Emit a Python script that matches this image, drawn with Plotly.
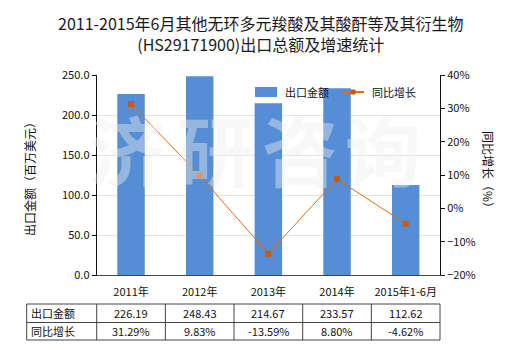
import plotly.graph_objects as go

categories = ["2011年", "2012年", "2013年", "2014年", "2015年1-6月"]
export_values = [226.19, 248.43, 214.67, 233.57, 112.62]
growth_values = [31.29, 9.83, -13.59, 8.80, -4.62]
export_labels = ["226.19", "248.43", "214.67", "233.57", "112.62"]
growth_labels = ["31.29%", "9.83%", "-13.59%", "8.80%", "-4.62%"]
row_names = ["出口金额", "同比增长"]
series_names = ["出口金额", "同比增长"]
watermark_chars = ["济", "研", "咨", "询"]

W, H = 520, 350
FONT = "Microsoft YaHei, Noto Sans CJK SC, sans-serif"
BAR_COLOR = "#558ED5"
LINE_COLOR = "#E46C0A"
MARK_COLOR = "#C55A11"
x0_px, x1_px = 96.7, 440.0
y_top_px, y_bot_px = 75.0, 275.0
dx0, dx1 = x0_px / W, x1_px / W
dy0, dy1 = 1 - y_bot_px / H, 1 - y_top_px / H


def px_x(p):
    return p / W


def px_y(p):
    return 1 - p / H


fig = go.Figure()
fig.add_trace(go.Bar(
    x=list(range(len(categories))), y=export_values, name=series_names[0],
    marker=dict(color=BAR_COLOR, line=dict(width=0)), width=0.4,
    yaxis="y", xaxis="x", showlegend=False))
fig.add_trace(go.Scatter(
    x=list(range(len(categories))), y=growth_values, name=series_names[1],
    mode="lines+markers", line=dict(color=LINE_COLOR, width=1),
    marker=dict(symbol="square", size=6, color=MARK_COLOR),
    yaxis="y2", xaxis="x", showlegend=False))

shapes = []
annotations = []

# watermark
wm_x = [127, 215, 300, 383]
for ch, xc in zip(watermark_chars, wm_x):
    annotations.append(dict(text="<b>" + ch + "</b>", x=px_x(xc), y=px_y(148), xref="paper", yref="paper",
                            xanchor="center", yanchor="middle", showarrow=False,
                            font=dict(size=76, color="rgba(238,238,238,0.42)", family=FONT)))

# title
annotations.append(dict(text="2011-2015年6月其他无环多元羧酸及其酸酐等及其衍生物<br>(HS29171900)出口总额及增速统计",
                        x=0.5, y=px_y(33), xref="paper", yref="paper", showarrow=False,
                        xanchor="center", yanchor="middle",
                        font=dict(size=16, color="#1a1a1a", family=FONT), align="center"))

# axis titles
annotations.append(dict(text="出口金额（百万美元）", x=px_x(29), y=px_y(176), xref="paper", yref="paper",
                        xanchor="center", yanchor="middle",
                        showarrow=False, textangle=-90, font=dict(size=12, color="#111", family=FONT)))
annotations.append(dict(text="同比增长（%）", x=px_x(489), y=px_y(172), xref="paper", yref="paper",
                        xanchor="center", yanchor="middle",
                        showarrow=False, textangle=90, font=dict(size=12, color="#111", family=FONT)))

# custom legend
shapes.append(dict(type="rect", xref="paper", yref="paper", x0=px_x(255), x1=px_x(277),
                   y0=px_y(97), y1=px_y(87), fillcolor=BAR_COLOR, line=dict(width=0)))
annotations.append(dict(text=series_names[0], x=px_x(283), y=px_y(92), xref="paper", yref="paper",
                        xanchor="left", yanchor="middle", showarrow=False,
                        font=dict(size=11, color="#111", family=FONT)))
shapes.append(dict(type="line", xref="paper", yref="paper", x0=px_x(342), x1=px_x(364),
                   y0=px_y(92), y1=px_y(92), line=dict(color=LINE_COLOR, width=2)))
shapes.append(dict(type="rect", xref="paper", yref="paper", x0=px_x(350.5), x1=px_x(355.5),
                   y0=px_y(94.5), y1=px_y(89.5), fillcolor=MARK_COLOR, line=dict(width=0)))
annotations.append(dict(text=series_names[1], x=px_x(370), y=px_y(92), xref="paper", yref="paper",
                        xanchor="left", yanchor="middle", showarrow=False,
                        font=dict(size=11, color="#111", family=FONT)))

# table
n = len(categories)
bounds = [dx0 + i * (dx1 - dx0) / n for i in range(n + 1)]
left = px_x(26.7)
row_lines = [px_y(304), px_y(322.5), px_y(340)]
line_style = dict(color="#444", width=1)
for yv in row_lines:
    shapes.append(dict(type="line", xref="paper", yref="paper", x0=left, x1=bounds[-1], y0=yv, y1=yv, line=line_style))
for xv in [left] + bounds:
    shapes.append(dict(type="line", xref="paper", yref="paper", x0=xv, x1=xv, y0=row_lines[0], y1=row_lines[2], line=line_style))
rows = [export_labels, growth_labels]
for r in range(2):
    yc = (row_lines[r] + row_lines[r + 1]) / 2
    annotations.append(dict(text=row_names[r], x=left + 2 / W, y=yc, xref="paper", yref="paper",
                            xanchor="left", yanchor="middle", showarrow=False,
                            font=dict(size=11, color="#111", family=FONT)))
    for i in range(n):
        annotations.append(dict(text=rows[r][i], x=(bounds[i] + bounds[i + 1]) / 2, y=yc, xref="paper", yref="paper",
                                xanchor="center", yanchor="middle", showarrow=False,
                                font=dict(size=11, color="#111", family=FONT)))

fig.update_layout(
    width=W, height=H, margin=dict(l=0, r=0, t=0, b=0, autoexpand=False),
    paper_bgcolor="white", plot_bgcolor="white",
    font=dict(family=FONT, size=11, color="#111"),
    showlegend=False,
    bargap=0.6,
    xaxis=dict(domain=[dx0, dx1], range=[-0.5, n - 0.5], tickmode="array",
               tickvals=list(range(n)), ticktext=categories, showgrid=False, automargin=False,
               showline=True, linecolor="#444", linewidth=1, ticks="", zeroline=False,
               tickfont=dict(size=11), ticklabelstandoff=7),
    yaxis=dict(domain=[dy0, dy1], range=[0, 250], dtick=50, tickformat=".1f", automargin=False,
               showgrid=True, gridcolor="#e3e3e3", gridwidth=1,
               showline=True, linecolor="#111", linewidth=1, ticks="outside", ticklen=4,
               tickcolor="#111", zeroline=False, tickfont=dict(size=11)),
    yaxis2=dict(domain=[dy0, dy1], range=[-20, 40], dtick=10, ticksuffix="%", overlaying="y",
                side="right", anchor="x", showgrid=False, showline=True, linecolor="#111", automargin=False,
                linewidth=1, ticks="outside", ticklen=4, tickcolor="#111", zeroline=False,
                tickfont=dict(size=11)),
    shapes=shapes, annotations=annotations,
)

fig.write_html("out.html")
